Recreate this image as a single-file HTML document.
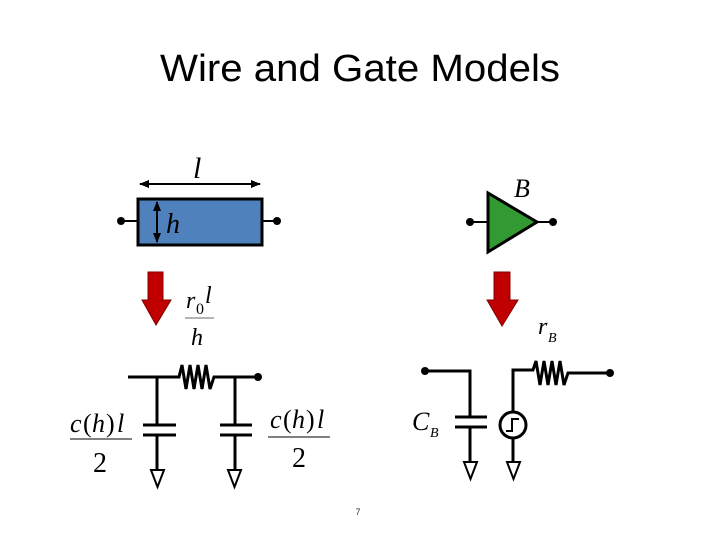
<!DOCTYPE html>
<html><head><meta charset="utf-8"><style>
body{margin:0;background:#fff;width:720px;height:540px;overflow:hidden}
svg{display:block}
.t{font-family:"Liberation Serif",serif;font-style:italic;fill:#000}
.n{font-family:"Liberation Serif",serif;fill:#000}
</style></head><body>
<svg width="720" height="540" viewBox="0 0 720 540">
<defs>
<marker id="ah" viewBox="0 0 10 10" refX="9" refY="5" markerWidth="5" markerHeight="5" orient="auto-start-reverse"><path d="M0,1 L10,5 L0,9 z" fill="#000"/></marker>
</defs>
<text x="160" y="81" textLength="400" lengthAdjust="spacingAndGlyphs" font-family="Liberation Sans, sans-serif" font-size="38" fill="#000">Wire and Gate Models</text>
<!-- wire block -->
<text class="t" x="193" y="178" font-size="30">l</text>
<line x1="140" y1="184" x2="260" y2="184" stroke="#000" stroke-width="2" marker-start="url(#ah)" marker-end="url(#ah)"/>
<line x1="121" y1="221" x2="137" y2="221" stroke="#000" stroke-width="2"/>
<line x1="262" y1="221" x2="277" y2="221" stroke="#000" stroke-width="2"/>
<circle cx="121" cy="221" r="4" fill="#000"/><circle cx="277" cy="221" r="4" fill="#000"/>
<rect x="138" y="199" width="124" height="46" fill="#4f81bd" stroke="#000" stroke-width="3"/>
<line x1="157" y1="202" x2="157" y2="242" stroke="#000" stroke-width="2" marker-start="url(#ah)" marker-end="url(#ah)"/>
<text class="t" x="166" y="233" font-size="28">h</text>
<!-- red arrow left -->
<path d="M148,272 H163 V300 H171 L156,325 L142,300 H148 Z" fill="#c00000" stroke="#800000" stroke-width="1"/>
<text class="t" x="186" y="308" font-size="24">r</text><text class="n" x="196" y="314" font-size="16">0</text><text class="t" x="205" y="303" font-size="24">l</text>
<line x1="185" y1="318" x2="214" y2="318" stroke="#888" stroke-width="1.2"/>
<text class="t" x="191" y="345" font-size="24">h</text>
<!-- wire circuit -->
<path d="M128,377 H179 L182,365 L186,389 L190,365 L194,389 L198,365 L202,389 L206,365 L210,389 L214,377 H258" fill="none" stroke="#000" stroke-width="3"/>
<circle cx="258" cy="377" r="4" fill="#000"/>
<g stroke="#000" stroke-width="3" fill="none">
<line x1="157" y1="377" x2="157" y2="425"/><line x1="143" y1="425" x2="176" y2="425"/><line x1="143" y1="435" x2="176" y2="435"/><line x1="157" y1="435" x2="157" y2="470"/>
<path d="M151,470 H164 L157.5,487 Z" stroke-width="2"/>
<line x1="235" y1="377" x2="235" y2="425"/><line x1="220" y1="425" x2="252" y2="425"/><line x1="220" y1="435" x2="252" y2="435"/><line x1="235" y1="435" x2="235" y2="470"/>
<path d="M228,470 H241 L234.5,487 Z" stroke-width="2"/>
</g>
<text class="t" x="70" y="432" font-size="26">c</text><text class="n" x="83" y="432" font-size="26">(</text><text class="t" x="92" y="432" font-size="26">h</text><text class="n" x="106" y="432" font-size="26">)</text><text class="t" x="117" y="432" font-size="26">l</text>
<line x1="70" y1="439" x2="132" y2="439" stroke="#000" stroke-width="1"/>
<text class="n" x="93" y="472" font-size="28">2</text>
<text class="t" x="270" y="428" font-size="26">c</text><text class="n" x="283" y="428" font-size="26">(</text><text class="t" x="292" y="428" font-size="26">h</text><text class="n" x="306" y="428" font-size="26">)</text><text class="t" x="317" y="428" font-size="26">l</text>
<line x1="268" y1="437" x2="330" y2="437" stroke="#000" stroke-width="1"/>
<text class="n" x="292" y="467" font-size="28">2</text>
<!-- gate -->
<line x1="470" y1="222" x2="488" y2="222" stroke="#000" stroke-width="2"/>
<line x1="537" y1="222" x2="553" y2="222" stroke="#000" stroke-width="2"/>
<circle cx="470" cy="222" r="4" fill="#000"/><circle cx="553" cy="222" r="4" fill="#000"/>
<path d="M488,193 L537,222 L488,252 Z" fill="#339933" stroke="#000" stroke-width="3"/>
<text class="t" x="514" y="197" font-size="26">B</text>
<path d="M494,272 H510 V300 H518 L502,326 L487,300 H494 Z" fill="#c00000" stroke="#800000" stroke-width="1"/>
<text class="t" x="538" y="334" font-size="24">r</text><text class="t" x="548" y="342" font-size="14">B</text>
<!-- gate circuit -->
<g stroke="#000" stroke-width="3" fill="none">
<path d="M425,371 H470 V417"/><line x1="455" y1="417" x2="487" y2="417"/><line x1="455" y1="427" x2="487" y2="427"/><line x1="470" y1="427" x2="470" y2="462"/>
<path d="M464,462 H477 L470.5,479 Z" stroke-width="2"/>
<path d="M513,412 V370 H533 L536,361 L540,385 L544,361 L548,385 L552,361 L556,385 L560,361 L564,385 L568,373 H610"/>
<circle cx="513" cy="425" r="13"/>
<path d="M506,431 H512 V419 H519" stroke-width="2"/>
<line x1="513" y1="438" x2="513" y2="462"/>
<path d="M507,462 H520 L513.5,479 Z" stroke-width="2"/>
</g>
<circle cx="425" cy="371" r="4" fill="#000"/><circle cx="610" cy="373" r="4" fill="#000"/>
<text class="t" x="412" y="430" font-size="26">C</text><text class="t" x="430" y="437" font-size="14">B</text>
<text x="358" y="515" text-anchor="middle" font-family="Liberation Sans, sans-serif" font-size="9" fill="#333">7</text>
</svg>
</body></html>
